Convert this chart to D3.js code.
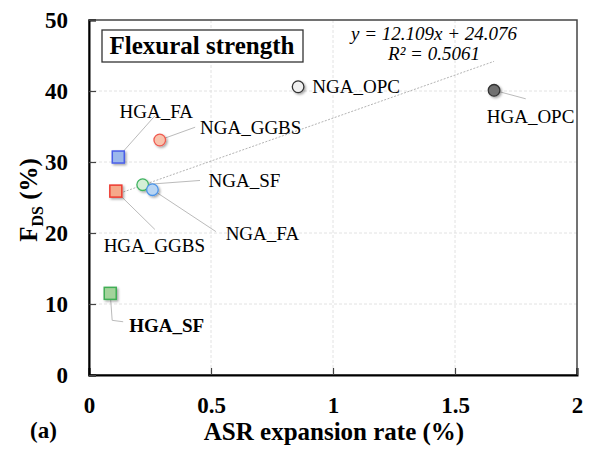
<!DOCTYPE html>
<html>
<head>
<meta charset="utf-8">
<script src="https://cdn.jsdelivr.net/npm/d3@7"></script>
<style>
  body { margin: 0; background: #fff; }
</style>
</head>
<body>
<div id="chart"></div>
<script>
// values
const names = ["NGA_OPC", "HGA_OPC", "NGA_GGBS", "HGA_FA", "NGA_SF", "NGA_FA", "HGA_GGBS", "HGA_SF"];
const asr = [0.857, 1.66, 0.29, 0.12, 0.22, 0.26, 0.11, 0.087];
const fds = [40.6, 40.1, 33.1, 30.7, 26.8, 26.1, 25.9, 11.5];
const xTicks = [0, 0.5, 1, 1.5, 2];
const yTicks = [0, 10, 20, 30, 40, 50];
const slope = 12.109, intercept = 24.076, r2 = 0.5061;

// look of each point
const shape = ["circle", "circle", "circle", "square", "circle", "circle", "square", "square"];
const fill = ["#f0f0f0", "#707070", "#f9c3ad", "#9bb8ec", "#d4efd6", "#b8d5f3", "#f5a98a", "#a3d39b"];
const stroke = ["#333", "#333", "#f05a50", "#4a5ee8", "#3fb360", "#4a93e8", "#ee3b30", "#3fae55"];
// label positions in data units [x, y, leader end x, y]
const labelPos = [
  [0.915, 40.6, null, null],
  [1.63, 36.5, 1.79, 38.9],
  [0.455, 34.9, 0.435, 34.9],
  [0.125, 37.2, 0.27, 36.5],
  [0.49, 27.4, 0.455, 27.4],
  [0.56, 20.0, 0.52, 20.2],
  [0.06, 18.3, 0.27, 20.5],
  [0.165, 7.0, 0.14, 7.5]
];

const FONT = "'Liberation Serif', 'Times New Roman', serif";
const W = 595, H = 449;
const m = { left: 89, right: 18, top: 20, bottom: 74 };
const iw = W - m.left - m.right, ih = H - m.top - m.bottom;

const svg = d3.select("#chart").append("svg").attr("width", W).attr("height", H);
const defs = svg.append("defs");
const f = defs.append("filter").attr("id", "sh").attr("x", "-50%").attr("y", "-50%").attr("width", "200%").attr("height", "200%");
f.append("feDropShadow").attr("dx", 1.5).attr("dy", 1.5).attr("stdDeviation", 1).attr("flood-color", "#000").attr("flood-opacity", 0.35);

const g = svg.append("g").attr("transform", `translate(${m.left},${m.top})`);
const x = d3.scaleLinear().domain([0, 2]).range([0, iw]);
const y = d3.scaleLinear().domain([0, 50]).range([ih, 0]);

// grid
g.selectAll(".gx").data(xTicks.slice(1, -1)).enter().append("line")
  .attr("x1", d => x(d)).attr("x2", d => x(d)).attr("y1", 0).attr("y2", ih)
  .attr("stroke", "#e2e2e2").attr("stroke-dasharray", "3,2");
g.selectAll(".gy").data(yTicks.slice(1, -1)).enter().append("line")
  .attr("x1", 0).attr("x2", iw).attr("y1", d => y(d)).attr("y2", d => y(d))
  .attr("stroke", "#e2e2e2").attr("stroke-dasharray", "3,2");

// frame
g.append("rect").attr("width", iw).attr("height", ih).attr("fill", "none").attr("stroke", "#444").attr("stroke-width", 1.5);

// axes with inward ticks
const xa = g.append("g").attr("transform", `translate(0,${ih})`)
  .call(d3.axisBottom(x).tickValues(xTicks).tickSize(-7).tickPadding(22).tickFormat(d3.format("")));
const ya = g.append("g")
  .call(d3.axisLeft(y).tickValues(yTicks).tickSize(-7).tickPadding(21));
[xa, ya].forEach(a => {
  a.attr("font-family", null);
  a.select(".domain").attr("stroke", "#000").attr("stroke-width", 2);
  a.selectAll(".tick line").attr("stroke", "#444").attr("stroke-width", 1.2);
  a.selectAll(".tick text").style("font-family", FONT).attr("font-size", 23).attr("font-weight", "bold").attr("fill", "#000");
});

// trend line
const xmin = d3.min(asr), xmax = d3.max(asr);
g.append("line")
  .attr("x1", x(xmin)).attr("y1", y(slope * xmin + intercept))
  .attr("x2", x(xmax)).attr("y2", y(slope * xmax + intercept))
  .attr("stroke", "#aaa").attr("stroke-width", 0.9).attr("stroke-dasharray", "2,1.5");

// leader lines
names.forEach((n, i) => {
  const lp = labelPos[i];
  if (lp[2] === null) return;
  const pts = [[x(asr[i]), y(fds[i])], [x(lp[2]), y(lp[3])]];
  if (n === "HGA_SF") pts.splice(1, 0, [x(0.095), y(7.7)]);
  g.append("path").attr("d", d3.line()(pts)).attr("fill", "none").attr("stroke", "#bbb").attr("stroke-width", 1);
});

// markers
const mk = g.selectAll(".pt").data(names).enter().append("g").attr("filter", "url(#sh)");
mk.each(function(n, i) {
  const s = d3.select(this);
  const cx = x(asr[i]), cy = y(fds[i]);
  if (shape[i] === "circle") {
    s.append("circle").attr("cx", cx).attr("cy", cy).attr("r", 5.8)
      .attr("fill", fill[i]).attr("stroke", stroke[i]).attr("stroke-width", 1.3);
  } else {
    s.append("rect").attr("x", cx - 6).attr("y", cy - 6).attr("width", 12).attr("height", 12)
      .attr("fill", fill[i]).attr("stroke", stroke[i]).attr("stroke-width", 1.5);
  }
});

// point labels
g.selectAll(".lbl").data(names).enter().append("text")
  .attr("x", (d, i) => x(labelPos[i][0])).attr("y", (d, i) => y(labelPos[i][1]))
  .attr("dy", "0.35em").attr("font-size", 19).style("font-family", FONT)
  .attr("font-weight", d => d === "HGA_SF" ? "bold" : "normal")
  .text(d => d);

// equation
g.append("text").attr("x", 345).attr("y", 20).attr("text-anchor", "middle").style("font-family", FONT)
  .attr("font-size", 19).attr("font-style", "italic").text(`y = ${slope}x + ${intercept}`);
g.append("text").attr("x", 345).attr("y", 40).attr("text-anchor", "middle").style("font-family", FONT)
  .attr("font-size", 19).attr("font-style", "italic").text(`R² = ${r2}`);

// title box
g.append("rect").attr("x", 13).attr("y", 10).attr("width", 201).attr("height", 32)
  .attr("fill", "#fff").attr("stroke", "#333").attr("stroke-width", 1.3);
g.append("text").attr("x", 113).attr("y", 34).attr("text-anchor", "middle").style("font-family", FONT)
  .attr("font-size", 25).attr("font-weight", "bold").text("Flexural strength");

// axis titles
svg.append("text").attr("x", 334).attr("y", 440).attr("text-anchor", "middle").style("font-family", FONT)
  .attr("font-size", 25).attr("font-weight", "bold").text("ASR expansion rate (%)");
svg.append("text").attr("x", 30).attr("y", 438).style("font-family", FONT).attr("font-size", 23).attr("font-weight", "bold").text("(a)");
const yt = svg.append("text").attr("transform", `translate(37,200) rotate(-90)`).style("font-family", FONT)
  .attr("text-anchor", "middle").attr("font-size", 25).attr("font-weight", "bold");
yt.append("tspan").text("F");
yt.append("tspan").attr("font-size", 16).attr("dy", 6).text("DS");
yt.append("tspan").attr("dy", -6).text(" (%)");
</script>
</body>
</html>
